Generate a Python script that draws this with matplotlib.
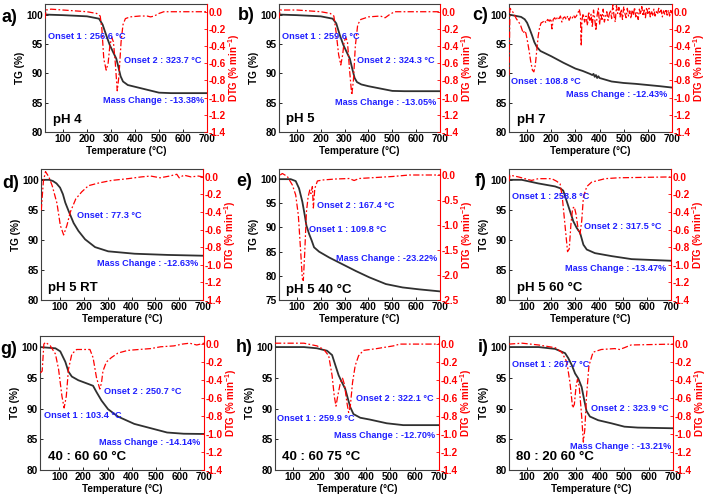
import matplotlib
matplotlib.use('Agg')
import matplotlib.pyplot as plt
from matplotlib.ticker import MultipleLocator, FormatStrFormatter

plt.rcParams['font.family'] = ['Liberation Sans', 'DejaVu Sans']
plt.rcParams['font.weight'] = 'bold'
plt.rcParams['axes.unicode_minus'] = False
plt.rcParams['mathtext.fontset'] = 'custom'
plt.rcParams['mathtext.rm'] = 'Liberation Sans:bold'
plt.rcParams['mathtext.it'] = 'Liberation Sans:bold'
plt.rcParams['mathtext.bf'] = 'Liberation Sans:bold'

# ---------------- data ----------------
# a) pH 4
a_tg_T = [25, 100, 200, 250, 265, 280, 295, 310, 322, 330, 340, 350, 370, 400, 450, 500, 550, 700]
a_tg = [100.0, 99.9, 99.7, 99.3, 98.3, 96.5, 94.8, 93.5, 92.5, 91.2, 89.5, 88.6, 88.0, 87.7, 87.2, 86.7, 86.62, 86.62]
a_dtg_T = [25, 30, 50, 100, 200, 240, 255, 262, 270, 280, 288, 295, 303, 310, 318, 326, 333, 342, 350, 360, 380, 420, 450, 465, 480, 500, 520, 700]
a_dtg = [-0.08, 0.02, 0.03, 0.02, 0.0, -0.02, -0.05, -0.2, -0.55, -0.68, -0.6, -0.4, -0.3, -0.35, -0.6, -0.92, -0.75, -0.35, -0.15, -0.08, -0.06, -0.05, -0.05, -0.06, -0.05, -0.02, 0.0, 0.0]

# b) pH 5
b_tg_T = [25, 100, 200, 250, 265, 280, 295, 310, 322, 332, 342, 352, 370, 400, 450, 500, 550, 700]
b_tg = [100.0, 99.9, 99.7, 99.3, 98.5, 96.5, 94.8, 93.5, 92.5, 90.8, 89.2, 88.5, 88.1, 87.8, 87.4, 87.0, 86.95, 86.95]
b_dtg_T = [25, 30, 100, 200, 240, 255, 265, 275, 284, 292, 298, 305, 312, 320, 330, 337, 345, 355, 368, 400, 450, 470, 490, 510, 700]
b_dtg = [-0.08, 0.02, 0.02, 0.0, -0.02, -0.05, -0.25, -0.5, -0.62, -0.5, -0.35, -0.3, -0.35, -0.65, -0.97, -0.8, -0.4, -0.15, -0.09, -0.06, -0.05, -0.07, -0.03, 0.0, 0.0]

# c) pH 7
c_tg_T = [25, 50, 75, 90, 100, 110, 120, 130, 140, 155, 180, 200, 250, 300, 330, 360, 370, 375, 380, 385, 390, 395, 400, 450, 500, 550, 600, 650, 700]
c_tg = [100.0, 99.8, 99.6, 99.2, 98.6, 97.6, 96.5, 95.3, 94.5, 93.8, 93.3, 92.9, 91.8, 90.8, 90.4, 89.9, 89.7, 89.9, 89.4, 89.7, 89.2, 89.5, 89.2, 88.6, 88.35, 88.2, 88.0, 87.8, 87.57]
c_dtg_T = [25, 29, 35, 45, 55, 65, 72, 78, 84, 90, 95, 100, 108, 115, 122, 128, 134, 140, 146, 152, 158,
           165, 172, 178, 185, 192, 198, 203, 208, 214, 220, 226, 232, 238, 244, 250, 256, 262, 268, 274, 280,
           286, 292, 298, 304, 310, 316, 321, 324, 327, 332, 338, 344, 350, 355, 360, 365, 370, 375, 380, 385,
           390, 395, 400, 405, 410, 415, 420, 425, 430, 435, 440, 445, 450, 455, 460, 465, 470, 475, 480, 485,
           490, 495, 500, 505, 510, 515, 520, 525, 530, 535, 540, 545, 550, 555, 560, 565, 570, 575, 580, 585,
           590, 595, 600, 605, 610, 615, 620, 625, 630, 635, 640, 645, 650, 655, 660, 665, 670, 675, 680, 685,
           690, 695, 700]
c_dtg = [-0.74, 0.04, 0.02, -0.02, -0.08, -0.12, -0.15, -0.2, -0.25, -0.22, -0.25, -0.32, -0.45, -0.58, -0.68, -0.7, -0.62, -0.45, -0.28, -0.18, -0.13,
         -0.12, -0.10, -0.13, -0.09, -0.11, -0.08, -0.2, -0.09, -0.07, -0.1, -0.06, -0.08, -0.05, -0.12, -0.07, -0.06, -0.09, -0.05, -0.1, -0.06,
         -0.08, -0.04, -0.07, -0.05, -0.02, 0.03, -0.05, -0.4, -0.1, -0.02, -0.12, -0.05, -0.16, 0.0, -0.1, -0.03, -0.18, 0.02, -0.08, -0.22,
         -0.04, 0.04, -0.15, -0.02, -0.09, 0.03, -0.12, -0.05, 0.0, -0.1, -0.03, 0.02, -0.08, 0.08, -0.05, -0.12, 0.07, -0.02, 0.05, -0.06,
         0.03, -0.09, 0.06, -0.02, -0.07, 0.04, -0.05, 0.01, -0.08, 0.02, -0.04, 0.05, -0.06, -0.01, -0.09, 0.03, -0.03, 0.06, -0.05, 0.02,
         -0.07, 0.05, -0.02, 0.04, -0.06, 0.01, -0.04, 0.03, -0.05, 0.0, -0.03, 0.04, -0.02, 0.02, -0.06, 0.01, -0.03, 0.03, -0.04, 0.02,
         -0.05, 0.03, -0.02]

# d) pH 5 RT
d_tg_T = [20, 55, 70, 85, 100, 112, 122, 136, 157, 177, 205, 247, 302, 413, 552, 700]
d_tg = [100.0, 100.0, 99.8, 99.4, 98.7, 97.6, 96.2, 94.8, 92.8, 91.5, 90.1, 88.8, 88.1, 87.7, 87.5, 87.37]
d_dtg_T = [21, 30, 39, 53, 67, 87, 101, 115, 129, 143, 166, 191, 219, 261, 316, 385, 441, 480, 520, 560, 590, 600, 620, 650, 680, 700]
d_dtg = [-0.38, -0.05, 0.06, 0.0, -0.1, -0.3, -0.55, -0.66, -0.55, -0.4, -0.25, -0.17, -0.1, -0.07, -0.04, -0.02, 0.0, 0.01, -0.01, 0.01, 0.03, -0.01, 0.02, 0.0, 0.01, 0.0]

# e) pH 5 40 °C
e_tg_T = [25, 74, 95, 109, 123, 133, 140, 151, 162, 172, 193, 235, 291, 347, 403, 473, 543, 613, 700]
e_tg = [100.0, 100.0, 99.6, 98.1, 95.3, 92.5, 90.4, 88.7, 87.3, 85.9, 85.0, 83.8, 82.4, 81.0, 79.7, 78.3, 77.6, 77.2, 76.78]
e_dtg_T = [30, 39, 60, 81, 95, 106, 116, 123, 127, 133, 140, 147, 154, 159, 165, 169, 175, 186, 207, 263, 319, 340, 361, 431, 501, 571, 700]
e_dtg = [0.0, 0.03, -0.03, -0.2, -0.4, -0.8, -1.54, -2.08, -2.11, -1.54, -0.74, -0.44, -0.3, -0.37, -0.23, -0.66, -0.27, -0.12, -0.1, -0.08, -0.07, -0.11, -0.07, -0.05, -0.03, 0.0, 0.0]

# f) pH 5 60 °C
f_tg_T = [25, 78, 147, 217, 238, 251, 265, 279, 293, 307, 321, 335, 349, 383, 453, 536, 700]
f_tg = [100.0, 100.0, 99.4, 98.9, 98.6, 98.2, 96.5, 94.8, 93.1, 92.0, 91.2, 89.2, 88.4, 87.8, 87.3, 86.8, 86.53]
f_dtg_T = [25, 29, 64, 119, 147, 203, 224, 238, 247, 258, 269, 276, 283, 290, 297, 304, 314, 321, 328, 335, 349, 369, 425, 481, 700]
f_dtg = [-0.05, 0.02, 0.0, -0.04, -0.02, -0.02, -0.05, -0.08, -0.23, -0.54, -0.85, -0.82, -0.54, -0.36, -0.34, -0.42, -0.61, -0.65, -0.5, -0.23, -0.11, -0.06, -0.02, -0.01, 0.0]

# g) 40 : 60 60 °C
g_tg_T = [20, 84, 104, 125, 138, 152, 179, 220, 240, 254, 275, 302, 343, 411, 479, 547, 616, 700]
g_tg = [100.0, 99.8, 99.3, 97.6, 96.0, 95.2, 94.6, 94.0, 93.7, 92.7, 91.3, 89.9, 88.7, 87.5, 86.8, 86.1, 85.9, 85.86]
g_dtg_T = [22, 29, 36, 43, 63, 84, 97, 111, 120, 129, 138, 152, 172, 200, 227, 240, 254, 268, 275, 281, 295, 316, 343, 384, 430, 479, 520, 575, 610, 640, 670, 700]
g_dtg = [-0.32, -0.3, 0.0, 0.02, -0.02, -0.11, -0.28, -0.58, -0.71, -0.58, -0.28, -0.11, -0.06, -0.06, -0.06, -0.15, -0.37, -0.5, -0.43, -0.3, -0.2, -0.15, -0.1, -0.07, -0.06, -0.05, -0.03, -0.02, 0.0, 0.01, -0.01, 0.01]

# h) 40 : 60 75 °C
h_tg_T = [25, 144, 198, 239, 260, 273, 287, 300, 314, 325, 335, 348, 376, 416, 485, 553, 700]
h_tg = [100.0, 100.0, 99.8, 99.4, 98.7, 97.1, 95.4, 94.3, 93.2, 91.6, 90.2, 89.1, 88.5, 88.2, 87.6, 87.3, 87.3]
h_dtg_T = [25, 144, 198, 226, 246, 260, 269, 276, 283, 294, 303, 311, 321, 328, 335, 344, 355, 369, 389, 444, 512, 539, 700]
h_dtg = [0.01, 0.01, -0.02, -0.06, -0.13, -0.35, -0.58, -0.69, -0.58, -0.43, -0.38, -0.45, -0.65, -0.76, -0.69, -0.43, -0.24, -0.13, -0.07, -0.05, -0.02, 0.0, 0.0]

# i) 80 : 20 60 °C
i_tg_T = [25, 147, 215, 256, 269, 283, 297, 310, 324, 335, 344, 358, 392, 446, 500, 555, 700]
i_tg = [100.0, 100.0, 99.7, 99.0, 98.2, 97.1, 95.7, 94.9, 93.5, 91.3, 89.6, 88.7, 88.1, 87.6, 87.05, 86.9, 86.79]
i_dtg_T = [25, 79, 147, 215, 242, 263, 276, 287, 294, 301, 307, 314, 324, 331, 337, 344, 354, 371, 405, 460, 480, 500, 527, 700]
i_dtg = [0.0, 0.01, -0.01, -0.04, -0.09, -0.2, -0.43, -0.71, -0.67, -0.47, -0.39, -0.47, -0.8, -1.09, -0.95, -0.58, -0.24, -0.09, -0.06, -0.05, -0.06, -0.04, -0.01, 0.0]

panel_letters = ['a)', 'b)', 'c)', 'd)', 'e)', 'f)', 'g)', 'h)', 'i)']
condition_labels = ['pH 4', 'pH 5', 'pH 7', 'pH 5 RT', 'pH 5 40 °C', 'pH 5 60 °C',
                    '40 : 60 60 °C', '40 : 60 75 °C', '80 : 20 60 °C']
annotations = [
    [('Onset 1 : 256.6 °C', 36, 96.3, 'left'), ('Onset 2 : 323.7 °C', 355, 92.2, 'left'), ('Mass Change : -13.38%', 688, 85.3, 'right')],
    [('Onset 1 : 259.6 °C', 36, 96.2, 'left'), ('Onset 2 : 324.3 °C', 354, 92.2, 'left'), ('Mass Change : -13.05%', 684, 85.0, 'right')],
    [('Onset : 108.8 °C', 33, 88.65, 'left'), ('Mass Change : -12.43%', 680, 86.35, 'right')],
    [('Onset : 77.3 °C', 171, 94.0, 'left'), ('Mass Change : -12.63%', 678, 86.0, 'right')],
    [('Onset 2 : 167.4 °C', 186, 94.45, 'left'), ('Onset 1 : 109.8 °C', 151, 89.6, 'left'), ('Mass Change : -23.22%', 690, 83.65, 'right')],
    [('Onset 1 : 258.8 °C', 39, 97.15, 'left'), ('Onset 2 : 317.5 °C', 339, 92.3, 'left'), ('Mass Change : -13.47%', 680, 85.3, 'right')],
    [('Onset 1 : 103.4 °C', 36, 88.9, 'left'), ('Onset 2 : 250.7 °C', 285, 92.8, 'left'), ('Mass Change : -14.14%', 686, 84.4, 'right')],
    [('Onset 1 : 259.9 °C', 35, 88.4, 'left'), ('Onset 2 : 322.1 °C', 359, 91.7, 'left'), ('Mass Change : -12.70%', 682, 85.6, 'right')],
    [('Onset 1 : 267.7 °C', 39, 97.2, 'left'), ('Onset 2 : 323.9 °C', 362, 90.0, 'left'), ('Mass Change : -13.21%', 693, 83.9, 'right')],
]
label_pos = [(60, 82.1), (53, 82.2), (57, 82.1), (50, 81.95), (53, 77.15), (57, 81.95), (54, 82.1), (55, 82.1), (52, 82.1)]

tg_data = [(a_tg_T, a_tg), (b_tg_T, b_tg), (c_tg_T, c_tg), (d_tg_T, d_tg), (e_tg_T, e_tg),
           (f_tg_T, f_tg), (g_tg_T, g_tg), (h_tg_T, h_tg), (i_tg_T, i_tg)]
dtg_data = [(a_dtg_T, a_dtg), (b_dtg_T, b_dtg), (c_dtg_T, c_dtg), (d_dtg_T, d_dtg), (e_dtg_T, e_dtg),
            (f_dtg_T, f_dtg), (g_dtg_T, g_dtg), (h_dtg_T, h_dtg), (i_dtg_T, i_dtg)]

# ---------------- layout (pixels) ----------------
W, H = 708, 499
fig = plt.figure(figsize=(W / 100, H / 100), dpi=100)
boxes = [(45, 4, 207, 132), (279, 4, 440, 132), (509, 4, 672, 132),
         (41, 169, 203, 300), (279, 169, 440, 300), (509, 169, 671, 300),
         (40, 336, 204, 470), (275, 336, 439, 470), (509, 336, 673, 470)]
xmins = [25, 25, 25, 20, 25, 25, 20, 25, 25]
letter_pos = [(2, 17), (238, 15), (472, 15), (2, 184), (236, 181), (475, 181), (0, 350), (236, 347), (478, 347)]

RED = '#ff0000'
BLUE = '#2020ff'
TGC = '#303030'
FS_TICK = 7.2
FS_LAB = 7.2

for k in range(9):
    l, t, r, b = boxes[k]
    ax = fig.add_axes([l / W, 1 - b / H, (r - l) / W, (b - t) / H])
    ax2 = ax.twinx()
    T, v = tg_data[k]
    ax.plot(T, v, color=TGC, lw=1.3, zorder=3)
    T2, v2 = dtg_data[k]
    ax2.plot(T2, v2, color=RED, lw=0.9, dashes=(5, 1.8, 1.4, 1.8))
    ax.set_xlim(xmins[k], 700)
    if k == 4:
        ax.set_ylim(75, 102.1)
        ax2.set_ylim(-2.5, 0.12)
        ax2.yaxis.set_major_locator(MultipleLocator(0.5))
    else:
        ax.set_ylim(80, 101.8)
        ax2.set_ylim(-1.4, 0.09)
        ax2.yaxis.set_major_locator(MultipleLocator(0.2))
    ax.yaxis.set_major_locator(MultipleLocator(5))
    ax.set_xticks([100, 200, 300, 400, 500, 600, 700])
    ax2.yaxis.set_major_formatter(FormatStrFormatter('%.1f'))
    ax.tick_params(axis='both', labelsize=FS_TICK, length=2, width=0.6, pad=1.5, direction='in')
    ax2.tick_params(axis='y', labelsize=FS_TICK, length=2, width=0.6, pad=1.5, direction='in',
                    colors=RED, labelcolor=RED)
    for lab in ax.get_xticklabels() + ax.get_yticklabels() + ax2.get_yticklabels():
        lab.set_fontweight('bold')
    ax.set_xlabel('Temperature (°C)', fontsize=FS_LAB, fontweight='bold', labelpad=1.5)
    ax.set_ylabel('TG (%)', fontsize=FS_LAB, fontweight='bold', labelpad=1)
    ax2.set_ylabel('DTG (% min$^{-1}$)', fontsize=7, fontweight='bold', color=RED, labelpad=0)
    for sp in ['left', 'bottom', 'top']:
        ax.spines[sp].set_color('#404040')
        ax.spines[sp].set_linewidth(0.8)
        ax2.spines[sp].set_visible(False)
    ax.spines['right'].set_visible(False)
    ax2.spines['right'].set_color(RED)
    ax2.spines['right'].set_linewidth(0.8)
    for (txt, x, y, ha) in annotations[k]:
        ax2.text(x, y, txt, transform=ax.transData, fontsize=6.6, fontweight='bold', color=BLUE,
                 ha=ha, va='center', zorder=5)
    lx, ly = label_pos[k]
    ax2.text(lx, ly, condition_labels[k], transform=ax.transData, fontsize=9.5, fontweight='bold',
             color='black', ha='left', va='center', zorder=5)
    px, py = letter_pos[k]
    fig.text(px / W, 1 - py / H, panel_letters[k], fontsize=13, fontweight='bold', ha='left', va='center')

fig.savefig('out.png', dpi=100)
